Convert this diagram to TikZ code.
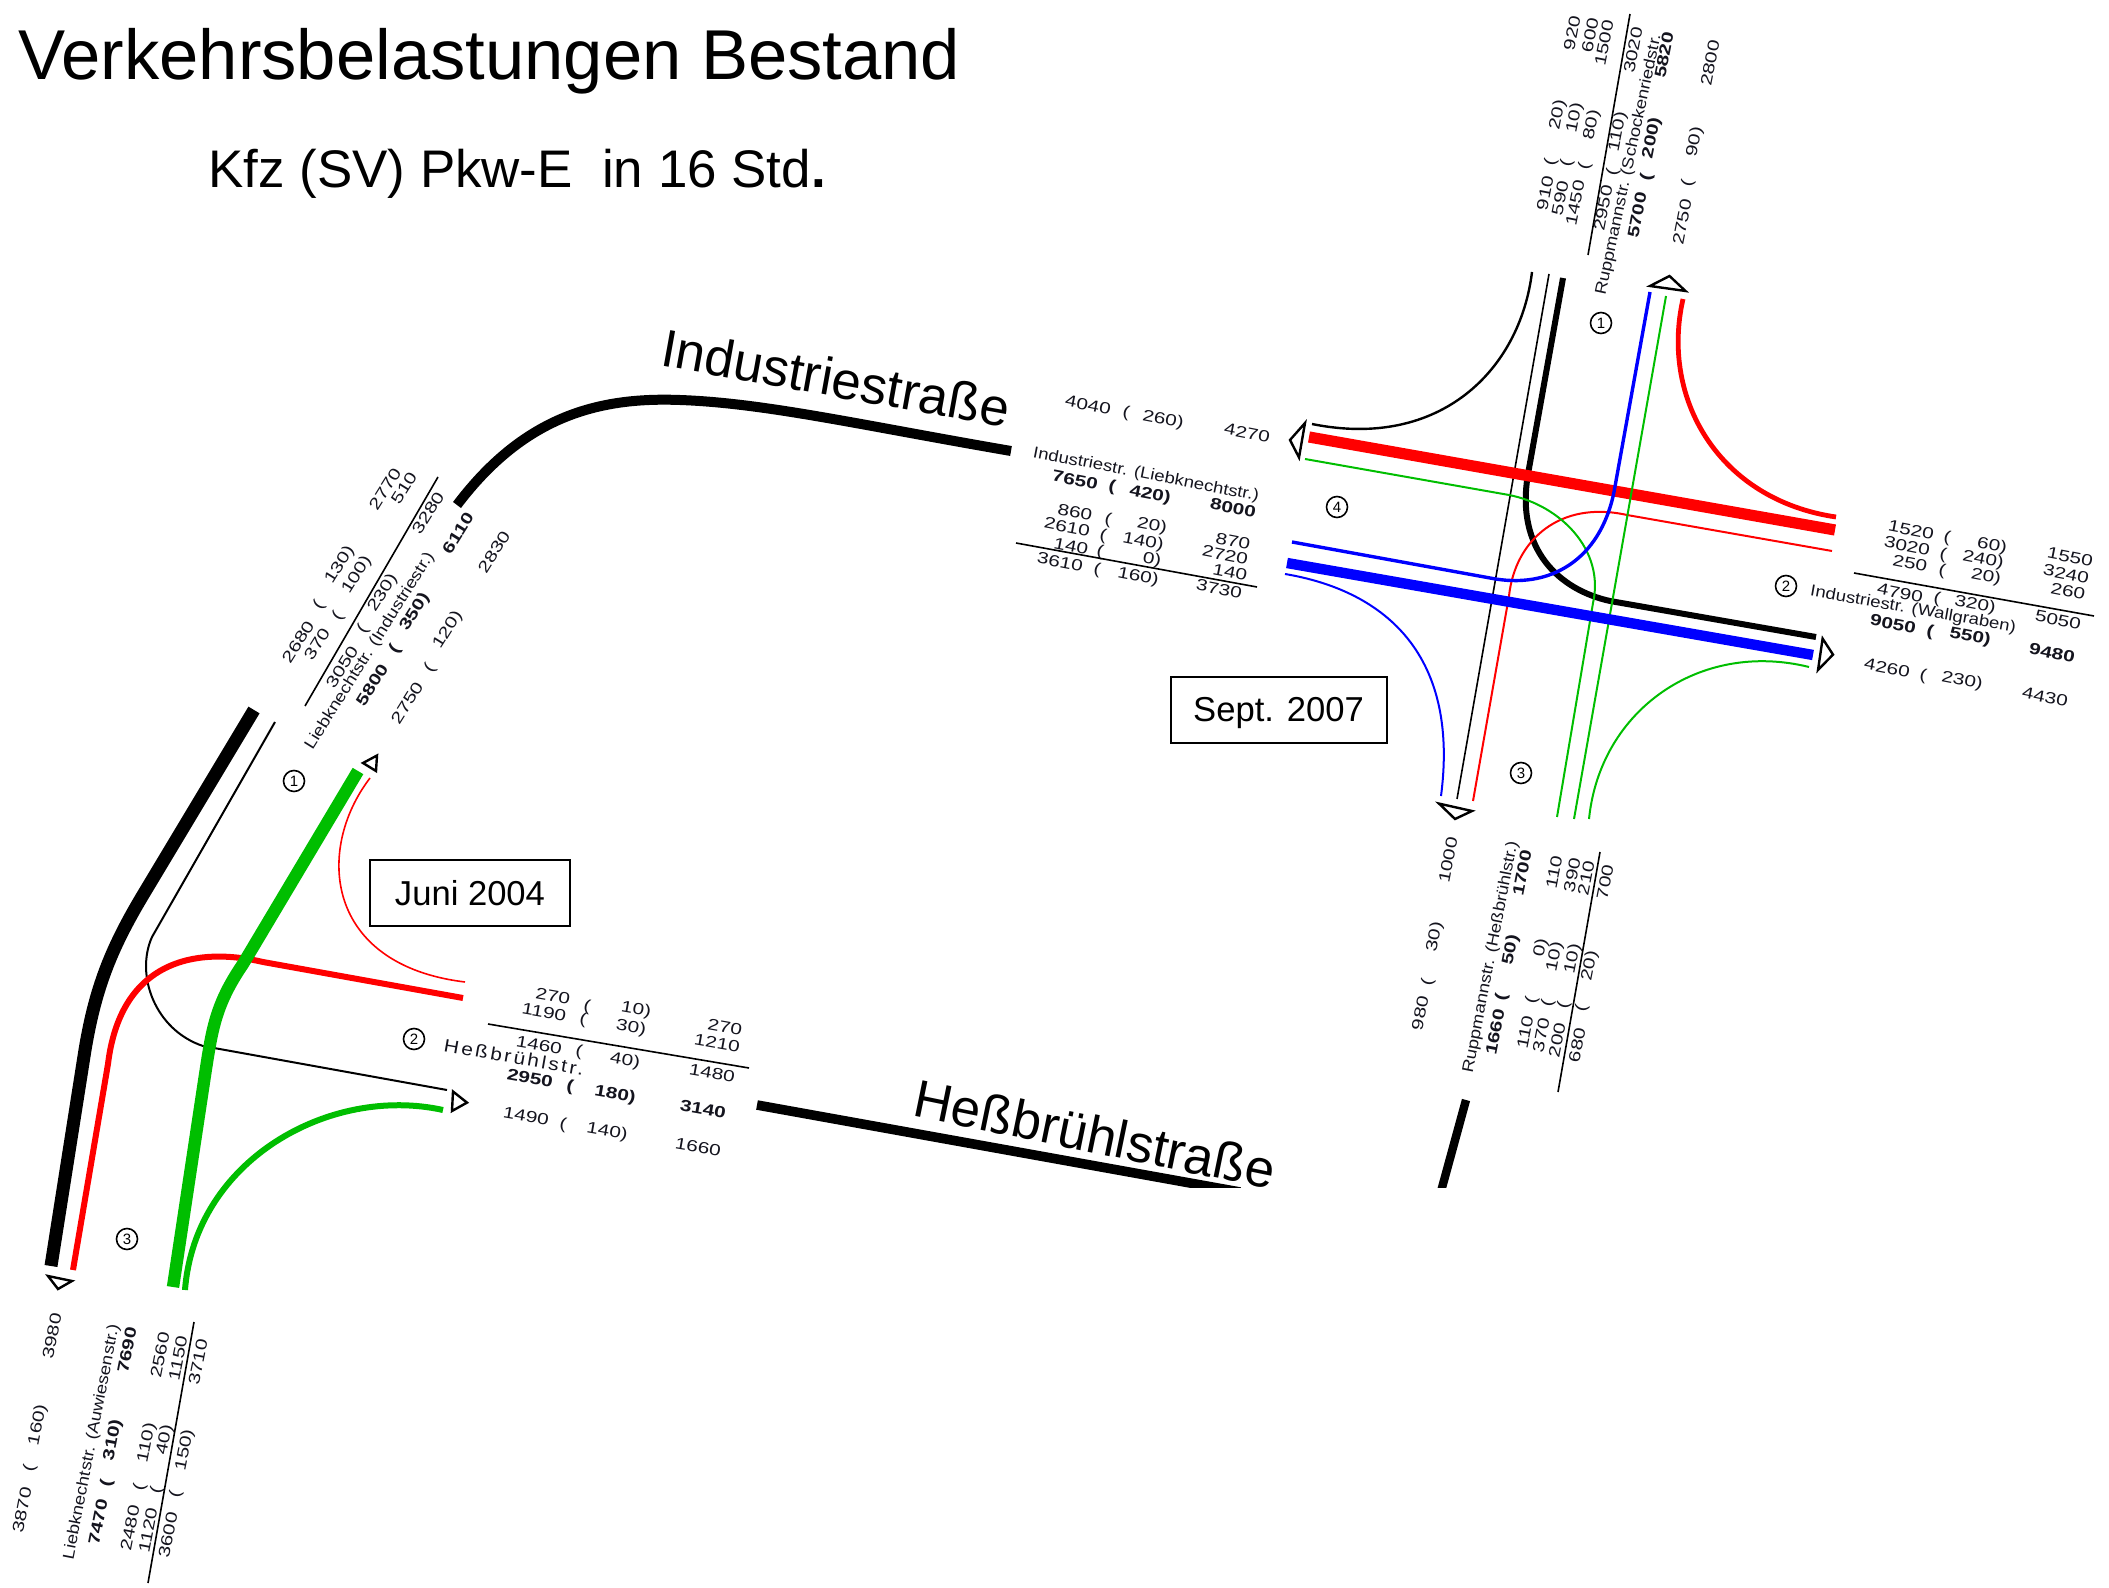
\documentclass[tikz,border=0pt]{standalone}
\usepackage{fontspec}
\setmainfont{Liberation Sans}
\newfontfamily\cntfont[FakeStretch=1.3]{Liberation Sans}
\newfontfamily\lblfont[FakeStretch=1.16]{Liberation Sans}
\definecolor{planred}{RGB}{255,0,0}
\definecolor{planblue}{RGB}{0,0,255}
\definecolor{plangreen}{RGB}{0,190,0}
\definecolor{plantext}{RGB}{20,20,30}
\tikzset{
  cnt/.style={font=\cntfont\fontsize{8}{9}\selectfont,text=plantext,inner sep=0pt},
  cntb/.style={cnt,font=\cntfont\bfseries\fontsize{8}{9}\selectfont},
  lbl/.style={font=\lblfont\fontsize{8}{9}\selectfont,text=plantext,inner sep=0pt},
  road/.style={font=\fontsize{26.4}{30}\selectfont,inner sep=0pt},
  datebox/.style={draw,line width=1pt,font=\fontsize{17.3}{20}\selectfont,minimum width=100pt,minimum height=33pt,inner sep=0pt,text height=12.5pt,text depth=0.5pt},
  armno/.style={draw,circle,line width=0.8pt,minimum size=10.5pt,inner sep=0pt,font=\fontsize{7.5}{8}\selectfont},
  tipmark/.style={line width=1.2pt,line join=miter},
  sumline/.style={line width=0.8pt},
  fine/.style={line width=1pt},
  heavy/.style={line width=5.6pt},
  wa/.style={cnt,rotate=-11},
  wab/.style={cntb,rotate=-11},
  na/.style={cnt,rotate=79},
  nab/.style={cntb,rotate=79},
  la/.style={cnt,rotate=58},
  lab/.style={cntb,rotate=58}
}
\begin{document}
\begin{tikzpicture}[x=0.5pt,y=-0.5pt]
\useasboundingbox (0,0) rectangle (2109,1588);

\node[font=\fontsize{35.3}{40}\selectfont,anchor=base west,inner sep=0pt] (title) at (18,80) {Verkehrsbelastungen Bestand};
\node[font=\fontsize{26.45}{30}\selectfont,anchor=base west,inner sep=0pt] (subtitle) at (208,188) {Kfz (SV) Pkw-E\ \ in 16 Std\textbf{.}};
\node[road,rotate=-10.2] (strI) at (836,378) {Industriestraße};
\node[road,rotate=-11.6] (strH) at (1095,1134) {Heßbrühlstraße};
\node[datebox] (juni) at (470,893) {Juni 2004};
\node[datebox,minimum width=108pt] (sept) at (1278.5,709.5) {Sept. 2007};

% link roads
\draw [line width=5pt] (457,505) .. controls (525,415) and (600,397) .. (680,400) .. controls (765,403) and (860,425) .. (1011,451);
\begin{scope}
\clip (0,0) rectangle (2109,1187);
\draw [line width=4.8pt] (757,1105) -- (1240,1192);
\draw [line width=4.2pt] (1466,1100) -- (1440,1195);
\end{scope}

% left junction
\draw [line width=6.5pt] (254,710) -- (143,895) .. controls (110,950) and (95,990) .. (85,1050) -- (51,1266);
\draw [fine] (275,722) -- (152,937) .. controls (135,975) and (155,1030) .. (203,1046) -- (447,1090);
\draw [line width=3pt,planred] (463,998) -- (263,962) .. controls (190,945) and (120,965) .. (108,1064) -- (73,1270);
\draw [line width=0.8pt,planred] (370,778) .. controls (315,850) and (325,965) .. (465,982);
\draw [line width=6.2pt,plangreen] (358,771) -- (243,964) .. controls (215,1005) and (212,1030) .. (205,1075) -- (173,1287);
\draw [line width=3pt,plangreen] (443,1110) .. controls (330,1085) and (195,1160) .. (185,1290);
\draw [tipmark] (363,763) -- (377,755.5) -- (376,771) -- cycle;
\draw [tipmark] (453,1091.5) -- (467,1102.6) -- (452,1111) -- cycle;
\draw [tipmark] (48,1276) -- (72,1281) -- (58,1289) -- cycle;
\node[armno] (L1) at (294,781) {1};
\node[armno] (L2) at (414,1039) {2};
\node[armno] (L3) at (127,1239) {3};

% right junction
\draw [line width=1.2pt] (1532,272) .. controls (1520,370) and (1440,450) .. (1312,424);
\draw [line width=0.8pt] (1549,274) -- (1457,799);
\draw [line width=3pt] (1563,278) -- (1528,474) .. controls (1515,550) and (1560,590) .. (1610,601) -- (1816,637);
\draw [heavy,planred] (1309,437) -- (1835,530);
\draw [line width=2.4pt,planred] (1683,299) .. controls (1660,400) and (1720,500) .. (1836,517);
\draw [fine,planred] (1832,551) -- (1627,515) .. controls (1560,500) and (1515,540) .. (1509,596) -- (1473,801);
\draw [fine,plangreen] (1305,459) -- (1509,495) .. controls (1560,505) and (1605,550) .. (1593,603) -- (1557,817);
\draw [fine,plangreen] (1666,296) -- (1574,819);
\draw [line width=1.7pt,planblue] (1650,292) -- (1614,492) .. controls (1600,560) and (1550,590) .. (1490,578) -- (1292,542);
\draw [line width=5.2pt,planblue] (1287,563) -- (1813,655);
\draw [fine,planblue] (1285,574) .. controls (1380,590) and (1460,650) .. (1441,796);
\draw [fine,plangreen] (1809,667) .. controls (1700,640) and (1600,710) .. (1589,819);
\draw [tipmark] (1305,423) -- (1290,440) -- (1299,457.5) -- cycle;
\draw [tipmark] (1650,286) -- (1669.5,276) -- (1685.5,291) -- cycle;
\draw [tipmark] (1822.6,638.6) -- (1833,654.6) -- (1818,670) -- cycle;
\draw [tipmark] (1439,803.6) -- (1472,811) -- (1455,819) -- cycle;
\node[armno] (R1) at (1601,323) {1};
\node[armno] (R2) at (1786,586) {2};
\node[armno] (R3) at (1521,773) {3};
\node[armno] (R4) at (1337,507) {4};

% right junction, west arm
\node[wa] (w1) at (1088,405) {4040};
\node[wa] (w2) at (1126,413) {(};
\node[wa] (w3) at (1163,420) {260)};
\node[wa] (w4) at (1247,433) {4270};
\node[lbl,rotate=-11] (w5) at (1146,475) {Industriestr. (Liebknechtstr.)};
\node[wab] (w6) at (1075,480) {7650};
\node[wab] (w7) at (1112,487) {(};
\node[wab] (w8) at (1150,495) {420)};
\node[wab] (w9) at (1233,508) {8000};
\node[wa] (w10) at (1075,512) {860};
\node[wa] (w11) at (1108,520) {(};
\node[wa] (w12) at (1152,526) {20)};
\node[wa] (w13) at (1233,541) {870};
\node[wa] (w14) at (1067,527) {2610};
\node[wa] (w15) at (1103,536) {(};
\node[wa] (w16) at (1143,542) {140)};
\node[wa] (w17) at (1225,555) {2720};
\node[wa] (w18) at (1071,546) {140};
\node[wa] (w19) at (1100,552) {(};
\node[wa] (w20) at (1152,560) {0)};
\node[wa] (w21) at (1230,572) {140};
\node[wa] (w22) at (1060,562) {3610};
\node[wa] (w23) at (1097,570) {(};
\node[wa] (w24) at (1138,577) {160)};
\node[wa] (w25) at (1219,589) {3730};
\draw [sumline] (1016,543) -- (1257,587);

% right junction, north arm
\node[na] (n1) at (1572,33) {920};
\node[na] (n2) at (1590,35) {600};
\node[na] (n3) at (1604,43) {1500};
\node[na] (n4) at (1633,50) {3020};
\node[nab] (n5) at (1664,55) {5820};
\node[na] (n6) at (1710,63) {2800};
\node[na] (n7) at (1558,115) {20)};
\node[na] (n8) at (1575,118) {10)};
\node[na] (n9) at (1592,125) {80)};
\node[na] (n10) at (1618,132) {110)};
\node[nab] (n11) at (1652,138) {200)};
\node[na] (n12) at (1695,142) {90)};
\node[na] (n13) at (1551,162) {(};
\node[na] (n14) at (1567,163) {(};
\node[na] (n15) at (1585,166) {(};
\node[na] (n16) at (1613,172) {(};
\node[nab] (n17) at (1647,177) {(};
\node[na] (n18) at (1688,183) {(};
\node[na] (n19) at (1545,193) {910};
\node[na] (n20) at (1560,198) {590};
\node[na] (n21) at (1575,203) {1450};
\node[na] (n22) at (1603,208) {2950};
\node[nab] (n23) at (1637,215) {5700};
\node[na] (n24) at (1682,222) {2750};
\node[lbl,rotate=78] (n25) at (1629,165) {Ruppmannstr. (Schockenriedstr.};
\draw [sumline] (1588,255) -- (1630,14);

% right junction, east arm
\node[wa] (e1) at (1911,530) {1520};
\node[wa] (e2) at (1947,538) {(};
\node[wa] (e3) at (1992,546) {60)};
\node[wa] (e4) at (2070,557) {1550};
\node[wa] (e5) at (1907,546) {3020};
\node[wa] (e6) at (1943,555) {(};
\node[wa] (e7) at (1983,560) {240)};
\node[wa] (e8) at (2066,574) {3240};
\node[wa] (e9) at (1910,563) {250};
\node[wa] (e10) at (1942,571) {(};
\node[wa] (e11) at (1986,577) {20)};
\node[wa] (e12) at (2068,591) {260};
\draw [sumline] (1854,573) -- (2094,616);
\node[wa] (e13) at (1900,593) {4790};
\node[wa] (e14) at (1937,599) {(};
\node[wa] (e15) at (1975,605) {320)};
\node[wa] (e16) at (2058,620) {5050};
\node[lbl,rotate=-10] (e17) at (1913,610) {Industriestr. (Wallgraben)};
\node[wab] (e18) at (1893,624) {9050};
\node[wab] (e19) at (1930,632) {(};
\node[wab] (e20) at (1970,637) {550)};
\node[wab] (e21) at (2052,653) {9480};
\node[wa] (e22) at (1887,668) {4260};
\node[wa] (e23) at (1923,676) {(};
\node[wa] (e24) at (1962,681) {230)};
\node[wa] (e25) at (2045,697) {4430};

% right junction, south arm
\node[na] (s1) at (1448,860) {1000};
\node[nab] (s2) at (1522,873) {1700};
\node[na] (s3) at (1554,872) {110};
\node[na] (s4) at (1572,875) {390};
\node[na] (s5) at (1586,878) {210};
\node[na] (s6) at (1605,882) {700};
\node[na] (s7) at (1435,937) {30)};
\node[nab] (s8) at (1511,950) {50)};
\node[na] (s9) at (1541,948) {0)};
\node[na] (s10) at (1555,957) {10)};
\node[na] (s11) at (1573,959) {10)};
\node[na] (s12) at (1590,966) {20)};
\node[na] (s13) at (1428,982) {(};
\node[nab] (s14) at (1502,997) {(};
\node[na] (s15) at (1532,1000) {(};
\node[na] (s16) at (1548,1003) {(};
\node[na] (s17) at (1564,1005) {(};
\node[na] (s18) at (1582,1008) {(};
\node[na] (s19) at (1420,1013) {980};
\node[nab] (s20) at (1495,1032) {1660};
\node[na] (s21) at (1525,1032) {110};
\node[na] (s22) at (1541,1035) {370};
\node[na] (s23) at (1557,1040) {200};
\node[na] (s24) at (1577,1045) {680};
\node[lbl,rotate=79] (s25) at (1491,957) {Ruppmannstr. (Heßbrühlstr.)};
\draw [sumline] (1558,1092) -- (1600,852);

% left junction, north arm
\node[la] (m1) at (385,489) {2770};
\node[la] (m2) at (404,488) {510};
\node[la] (m3) at (428,513) {3280};
\node[lab] (m4) at (458,533) {6110};
\node[la] (m5) at (494,552) {2830};
\node[la] (m6) at (340,565) {130)};
\node[la] (m7) at (357,575) {100)};
\node[la] (m8) at (383,593) {230)};
\node[lab] (m9) at (415,612) {350)};
\node[la] (m10) at (448,630) {120)};
\node[la] (m11) at (319,605) {(};
\node[la] (m12) at (338,616) {(};
\node[la] (m13) at (363,629) {(};
\node[lab] (m14) at (395,649) {(};
\node[la] (m15) at (430,668) {(};
\node[la] (m16) at (298,642) {2680};
\node[la] (m17) at (317,644) {370};
\node[la] (m18) at (342,667) {3050};
\node[lab] (m19) at (372,685) {5800};
\node[la] (m20) at (407,703) {2750};
\node[lbl,rotate=58] (m21) at (370,651) {Liebknechtstr. (Industriestr.)};
\draw [sumline] (305,706) -- (438,477);

% left junction, east arm
\node[wa,rotate=1] (k1) at (553,996) {270};
\node[wa,rotate=1] (k2) at (587,1007) {(};
\node[wa,rotate=1] (k3) at (636,1010) {10)};
\node[wa,rotate=1] (k4) at (725,1027) {270};
\node[wa,rotate=1] (k5) at (544,1012) {1190};
\node[wa,rotate=1] (k6) at (583,1020) {(};
\node[wa,rotate=1] (k7) at (631,1028) {30)};
\node[wa,rotate=1] (k8) at (717,1043) {1210};
\draw [sumline] (488,1024) -- (749,1068);
\node[wa,rotate=1] (k9) at (539,1045) {1460};
\node[wa,rotate=1] (k10) at (579,1052) {(};
\node[wa,rotate=1] (k11) at (625,1061) {40)};
\node[wa,rotate=1] (k12) at (712,1073) {1480};
\node[lbl,rotate=-10] (k13) at (514,1057) {\fontsize{9}{10}\selectfont\addfontfeature{LetterSpace=14}Heßbrühlstr.};
\node[wab,rotate=1] (k14) at (530,1078) {2950};
\node[wab,rotate=1] (k15) at (570,1087) {(};
\node[wab,rotate=1] (k16) at (615,1095) {180)};
\node[wab,rotate=1] (k17) at (703,1109) {3140};
\node[wa,rotate=1] (k18) at (526,1116) {1490};
\node[wa,rotate=1] (k19) at (563,1125) {(};
\node[wa,rotate=1] (k20) at (607,1132) {140)};
\node[wa,rotate=1] (k21) at (698,1147) {1660};

% left junction, south arm
\node[na] (u1) at (52,1336) {3980};
\node[nab] (u2) at (127,1350) {7690};
\node[na] (u3) at (160,1355) {2560};
\node[na] (u4) at (178,1358) {1150};
\node[na] (u5) at (198,1362) {3710};
\node[na] (u6) at (38,1425) {160)};
\node[nab] (u7) at (113,1440) {310)};
\node[na] (u8) at (147,1443) {110)};
\node[na] (u9) at (165,1440) {40)};
\node[na] (u10) at (185,1450) {150)};
\node[na] (u11) at (30,1468) {(};
\node[nab] (u12) at (107,1483) {(};
\node[na] (u13) at (140,1487) {(};
\node[na] (u14) at (157,1490) {(};
\node[na] (u15) at (176,1494) {(};
\node[na] (u16) at (22,1510) {3870};
\node[nab] (u17) at (98,1522) {7470};
\node[na] (u18) at (130,1528) {2480};
\node[na] (u19) at (148,1530) {1120};
\node[na] (u20) at (168,1535) {3600};
\node[lbl,rotate=79] (u21) at (92,1442) {Liebknechtstr. (Auwiesenstr.)};
\draw [sumline] (148,1583) -- (194,1322);

\end{tikzpicture}
\end{document}
